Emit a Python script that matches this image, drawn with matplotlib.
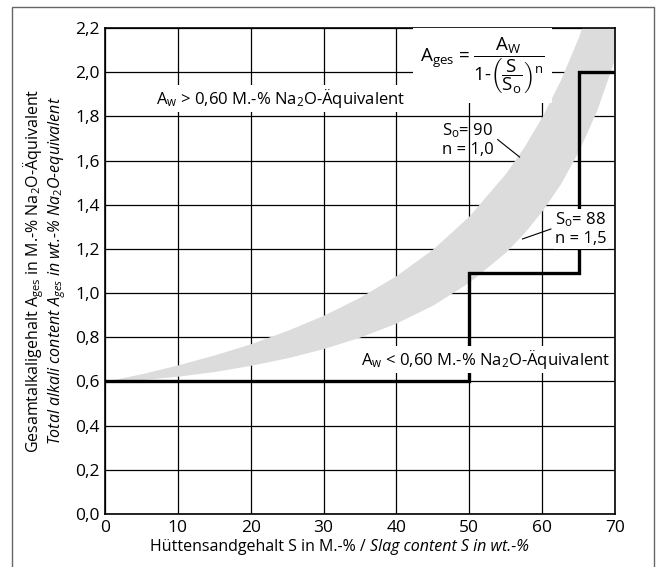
import matplotlib
matplotlib.use("Agg")
import matplotlib.pyplot as plt
from matplotlib.patches import Rectangle

plt.rcParams['font.family'] = ['Open Sans', 'DejaVu Sans']
plt.rcParams['mathtext.fontset'] = 'custom'
plt.rcParams['mathtext.rm'] = 'Open Sans'
plt.rcParams['mathtext.it'] = 'Open Sans:italic'
plt.rcParams['mathtext.bf'] = 'Open Sans:bold'

# slag content S (M.-%) and the two limit curves of the grey band
S = [0, 5, 10, 15, 20, 25, 30, 35, 40, 45, 50, 55, 57.5, 60, 62.5, 65, 67.5, 70]
upper = [0.600, 0.635, 0.675, 0.720, 0.771, 0.831, 0.900, 0.982, 1.080, 1.200,
         1.350, 1.543, 1.662, 1.800, 1.964, 2.160, 2.400, 2.700]   # S_o = 90, n = 1.0
lower = [0.600, 0.608, 0.624, 0.645, 0.673, 0.707, 0.749, 0.801, 0.865, 0.946,
         1.050, 1.186, 1.272, 1.373, 1.494, 1.643, 1.828, 2.065]   # S_o = 88, n = 1.5

# step limit line
step_S = [0, 50, 50, 65, 65, 70]
step_A = [0.6, 0.6, 1.09, 1.09, 2.0, 2.0]

xticks = [0, 10, 20, 30, 40, 50, 60, 70]
yticks = [0.0, 0.2, 0.4, 0.6, 0.8, 1.0, 1.2, 1.4, 1.6, 1.8, 2.0, 2.2]

fig = plt.figure(figsize=(6.6, 5.67), dpi=100)
ax = fig.add_axes([105/660, 1-514/567, 510/660, 486/567])

# outer frame
fig.patches.append(Rectangle((12/660, -0.02), 642/660, 1.02-7/567, transform=fig.transFigure,
                             fill=False, edgecolor='#666666', linewidth=1.0))

ax.fill_between(S, lower, upper, color='#dcdcdc', linewidth=0, zorder=2)
ax.plot(step_S, step_A, color='black', linewidth=2.4, zorder=3, solid_joinstyle='miter')

ax.set_xlim(0, 70)
ax.set_ylim(0, 2.2)
ax.set_xticks(xticks)
ax.set_yticks(yticks)
ax.set_xticklabels([str(v) for v in xticks])
ax.set_yticklabels([('%.1f' % v).replace('.', ',') for v in yticks])
ax.tick_params(length=0, labelsize=12.5, pad=4)
ax.grid(True, color='black', linewidth=0.9, zorder=1)
ax.set_axisbelow(True)
for sp in ax.spines.values():
    sp.set_linewidth(1.2)
    sp.set_zorder(4)

white = dict(facecolor='white', edgecolor='none', pad=1.5)

ax.text(7.0, 1.88, r'A$\mathregular{_w}$ > 0,60 M.-% Na$\mathregular{_2}$O-Äquivalent',
        fontsize=12, va='center', ha='left', bbox=white, zorder=5)
ax.text(69.3, 0.70, r'A$\mathregular{_w}$ < 0,60 M.-% Na$\mathregular{_2}$O-Äquivalent',
        fontsize=12, va='center', ha='right', bbox=white, zorder=5)

# formula
ax.text(51.8, 2.03,
        r'$\mathregular{A_{ges}}$ = $\dfrac{\mathregular{A_W}}{\mathregular{1}\text{-}\left(\dfrac{\mathregular{S}}{\mathregular{S_o}}\right)^{\mathregular{n}}}$',
        fontsize=13.5, va='center', ha='center',
        bbox=dict(facecolor='white', edgecolor='none', pad=5), zorder=5)

# curve labels with leader lines
ax.text(46.3, 1.695, r'S$\mathregular{_o}$= 90' + '\n' + 'n = 1,0', fontsize=12,
        va='center', ha='left', linespacing=1.15, zorder=5)
ax.plot([53.9, 56.9], [1.695, 1.616], color='black', linewidth=0.8, zorder=5)
ax.text(61.8, 1.29, r'S$\mathregular{_o}$= 88' + '\n' + 'n = 1,5', fontsize=12,
        va='center', ha='left', linespacing=1.15,
        bbox=dict(facecolor='white', edgecolor='none', pad=1), zorder=5)
ax.plot([61.2, 57.3], [1.29, 1.245], color='black', linewidth=0.8, zorder=5)

# axis labels
t1 = fig.text(150/660, 1-547/567, 'Hüttensandgehalt S in M.-% / ', fontsize=11.5,
              va='center', ha='left')
ax.annotate('Slag content S in wt.-%', xy=(1, 0), xycoords=t1, va='bottom', ha='left',
            fontsize=11.5, style='italic')

fig.text(34/660, 1-271/567,
         r'Gesamtalkaligehalt A$\mathregular{_{ges}}$ in M.-% Na$\mathregular{_2}$O-Äquivalent',
         fontsize=11.5, rotation=90, va='center', ha='center')
fig.text(57/660, 1-271/567,
         r'Total alkali content A$_{ges}$ in wt.-% Na$_2$O-equivalent',
         fontsize=11.5, rotation=90, va='center', ha='center', style='italic')

fig.savefig('out.png', dpi=100)
